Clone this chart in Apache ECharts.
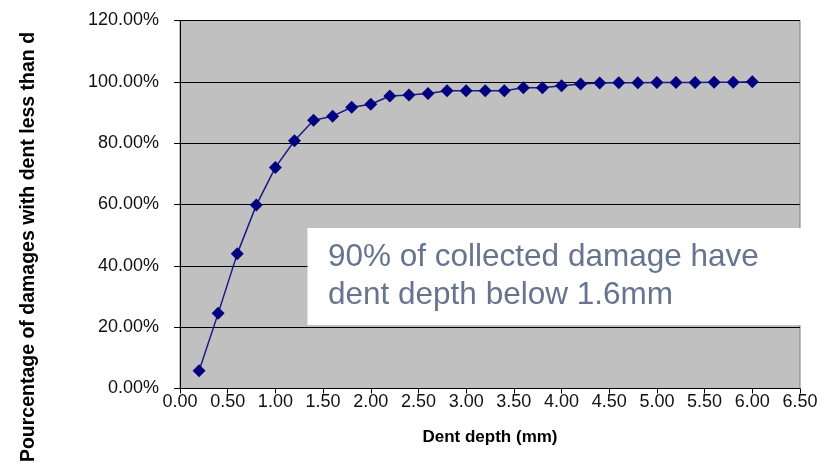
<!DOCTYPE html>
<html>
<head>
<meta charset="utf-8">
<script src="https://cdn.jsdelivr.net/npm/echarts@6/dist/echarts.min.js"></script>
<style>
html,body{margin:0;padding:0;background:#fff;}
#chart{width:833px;height:470px;}
</style>
</head>
<body>
<div id="chart"></div>
<script>
// Dent depth (mm)
var depths = [0.2,0.4,0.6,0.8,1.0,1.2,1.4,1.6,1.8,2.0,2.2,2.4,2.6,2.8,3.0,3.2,3.4,3.6,3.8,4.0,4.2,4.4,4.6,4.8,5.0,5.2,5.4,5.6,5.8,6.0];
// Percentage of damages with dent less than d (%)
var percentages = [5.8,24.5,43.9,59.8,72.1,80.8,87.5,88.8,91.7,92.7,95.4,95.7,96.2,97.1,97.1,97.1,97.1,98.1,98.1,98.7,99.3,99.6,99.7,99.7,99.8,99.8,99.8,99.9,99.9,100];
var yTicks = {min: 0, max: 120, interval: 20};
var xTicks = {min: 0, max: 6.5, interval: 0.5};
var xTitle = 'Dent depth (mm)';
var yTitle = 'Pourcentage of damages with dent less than d';
var noteLines = ['90% of collected damage have', 'dent depth below 1.6mm'];

var points = depths.map(function (d, i) { return [d, percentages[i]]; });

var chart = echarts.init(document.getElementById('chart'), null, {renderer: 'canvas'});
var labelFont = {fontFamily: 'Liberation Sans, Arial, sans-serif', fontSize: 18, color: '#111'};
chart.setOption({
  animation: false,
  backgroundColor: '#ffffff',
  grid: {
    left: 180, right: 33, top: 20.5, bottom: 81.5,
    show: true, backgroundColor: '#c0c0c0', borderColor: '#808080', borderWidth: 1
  },
  xAxis: {
    type: 'value', min: xTicks.min, max: xTicks.max, interval: xTicks.interval,
    name: xTitle, nameLocation: 'middle', nameGap: 40,
    nameTextStyle: {fontFamily: 'Liberation Sans, Arial, sans-serif', fontSize: 17, fontWeight: 'bold', color: '#000'},
    axisLine: {show: true, lineStyle: {color: '#000', width: 1}},
    axisTick: {show: true, inside: false, length: 5, lineStyle: {color: '#000'}},
    axisLabel: Object.assign({margin: 5, formatter: function (v) { return v.toFixed(2); }}, labelFont),
    splitLine: {show: false}
  },
  yAxis: {
    type: 'value', min: yTicks.min, max: yTicks.max, interval: yTicks.interval,
    axisLine: {show: true, lineStyle: {color: '#000', width: 1}},
    axisTick: {show: true, inside: false, length: 6, lineStyle: {color: '#000'}},
    axisLabel: Object.assign({margin: 21, formatter: function (v) { return v.toFixed(2) + '%'; }}, labelFont),
    splitLine: {show: true, lineStyle: {color: '#000', width: 1}}
  },
  series: [{
    type: 'line',
    data: points,
    symbol: 'diamond',
    symbolSize: 13,
    showSymbol: true,
    itemStyle: {color: '#000080'},
    lineStyle: {color: '#1a1a88', width: 1.5},
    z: 5
  }],
  graphic: [
    {
      type: 'rect', left: 307.5, top: 228, z: 10,
      shape: {width: 497, height: 97},
      style: {fill: '#ffffff'}
    },
    {
      type: 'text', x: 328, y: 257, z: 11,
      style: {text: noteLines[0], fill: '#66748f', font: '31.5px "Liberation Sans", Arial, sans-serif', textAlign: 'left', textVerticalAlign: 'middle'}
    },
    {
      type: 'text', x: 328, y: 295, z: 11,
      style: {text: noteLines[1], fill: '#66748f', font: '31.5px "Liberation Sans", Arial, sans-serif', textAlign: 'left', textVerticalAlign: 'middle'}
    },
    {
      type: 'text', x: 29, y: 247, rotation: Math.PI / 2, z: 11,
      style: {text: yTitle, fill: '#000', font: 'bold 19.5px "Liberation Sans", Arial, sans-serif', textAlign: 'center', textVerticalAlign: 'middle'}
    }
  ]
});
</script>
</body>
</html>
